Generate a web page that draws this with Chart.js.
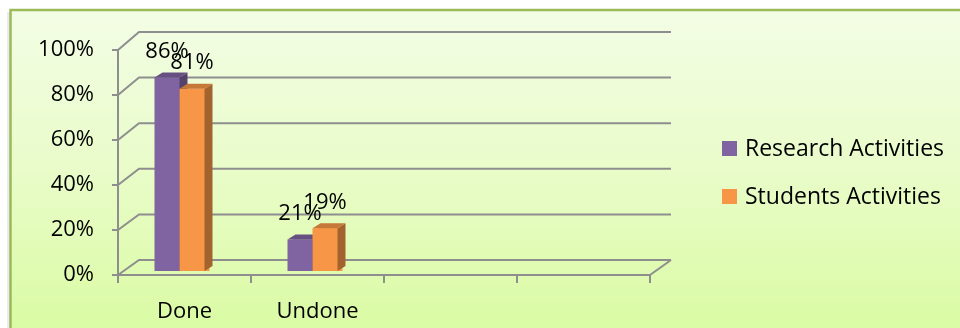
<!DOCTYPE html>
<html>
<head>
<meta charset="utf-8">
<script src="https://cdn.jsdelivr.net/npm/chart.js@4"></script>
<style>
  html, body { margin: 0; padding: 0; background: #fff; }
  #wrap { width: 960px; height: 328px; }
</style>
</head>
<body>
<div id="wrap"><canvas id="myChart" width="960" height="328"></canvas></div>
<script>
//DATOS
const categorias = ["Done", "Undone", "", ""];
const researchActivities = [86, 14, null, null];
const studentsActivities = [81, 19, null, null];
// texts shown above the bars (as printed in the picture)
const researchLabels = ["86%", "21%", "", ""];
const studentsLabels = ["81%", "19%", "", ""];
const yTicks = [0, 20, 40, 60, 80, 100];
const serieNames = ["Research Activities", "Students Activities"];

const colPurple = "#8064a2";
const colOrange = "#f79646";
const gris = "#8e8e8e";
const fuente = "'Open Sans', sans-serif";
const shiftX = -5; // bars sit a bit left in the 3D view
const depthX = 8, depthY = -5; // bar depth

function shade(hex, f) {
  const n = parseInt(hex.slice(1), 16);
  const r = Math.round(((n >> 16) & 255) * f);
  const g = Math.round(((n >> 8) & 255) * f);
  const b = Math.round((n & 255) * f);
  return `rgb(${r},${g},${b})`;
}

// fondo + marco verde
const fondoPlugin = {
  id: "fondo",
  beforeDraw(chart) {
    const ctx = chart.ctx;
    ctx.save();
    ctx.fillStyle = "#fff";
    ctx.fillRect(0, 0, chart.width, chart.height);
    // sombra izquierda
    ctx.fillStyle = "rgba(0,0,0,0.08)";
    ctx.fillRect(7, 12, 3, chart.height);
    const grad = ctx.createLinearGradient(0, 10, 0, chart.height);
    grad.addColorStop(0, "#f3fde5");
    grad.addColorStop(0.5, "#e9fcc9");
    grad.addColorStop(1, "#dafba4");
    ctx.fillStyle = grad;
    ctx.fillRect(10, 10, chart.width, chart.height);
    ctx.strokeStyle = "#9bbb59";
    ctx.lineWidth = 2.5;
    ctx.strokeRect(10.5, 10, chart.width + 10, chart.height + 10);
    ctx.restore();
  },
};

// pared del fondo en 3D, caras de las barras, etiquetas y leyenda
const paredPlugin = {
  id: "pared",
  beforeDatasetsDraw(chart) {
    const ctx = chart.ctx;
    const y = chart.scales.y;
    const left = chart.chartArea.left;
    const right = chart.chartArea.right;
    ctx.save();
    ctx.strokeStyle = gris;
    ctx.lineWidth = 2;
    yTicks.forEach((v) => {
      const yf = y.getPixelForValue(v);
      const yb = yf - 15 - (3 * v) / 100;
      ctx.beginPath();
      ctx.moveTo(left, yf);
      ctx.lineTo(left + 21, yb);
      ctx.lineTo(right + 21, yb);
      ctx.stroke();
    });
    // borde del piso a la derecha
    const y0 = y.getPixelForValue(0);
    ctx.beginPath();
    ctx.moveTo(right, y0);
    ctx.lineTo(right + 21, y0 - 15);
    ctx.stroke();
    ctx.restore();
  },
  afterDatasetsDraw(chart) {
    const ctx = chart.ctx;
    ctx.save();
    ctx.translate(shiftX, 0);
    const colores = [colPurple, colOrange];
    const nCat = categorias.length;
    for (let i = 0; i < nCat; i++) {
      chart.data.datasets.forEach((ds, d) => {
        if (ds.data[i] == null) return;
        const bar = chart.getDatasetMeta(d).data[i];
        bar.draw(ctx); // frente de la barra
        const p = bar.getProps(["x", "y", "base", "width"], true);
        const l = p.x - p.width / 2;
        const r = p.x + p.width / 2;
        // lado
        ctx.fillStyle = shade(colores[d], 0.66);
        ctx.beginPath();
        ctx.moveTo(r, p.y);
        ctx.lineTo(r + depthX, p.y + depthY);
        ctx.lineTo(r + depthX, p.base + depthY);
        ctx.lineTo(r, p.base);
        ctx.closePath();
        ctx.fill();
        // tapa
        ctx.fillStyle = shade(colores[d], 0.8);
        ctx.beginPath();
        ctx.moveTo(l, p.y);
        ctx.lineTo(l + depthX, p.y + depthY);
        ctx.lineTo(r + depthX, p.y + depthY);
        ctx.lineTo(r, p.y);
        ctx.closePath();
        ctx.fill();
      });
    }
    // etiquetas
    ctx.fillStyle = "#000";
    ctx.font = "22px " + fuente;
    ctx.textAlign = "center";
    ctx.textBaseline = "middle";
    [researchLabels, studentsLabels].forEach((textos, d) => {
      chart.getDatasetMeta(d).data.forEach((bar, i) => {
        if (!textos[i]) return;
        ctx.fillText(textos[i], bar.x, bar.y - 26);
      });
    });
    ctx.restore();
    // leyenda
    ctx.save();
    ctx.font = "23px " + fuente;
    ctx.textAlign = "left";
    ctx.textBaseline = "middle";
    serieNames.forEach((nombre, i) => {
      const cy = 148 + i * 48;
      ctx.fillStyle = colores[i];
      ctx.fillRect(722, cy - 7, 15, 15);
      ctx.fillStyle = "#000";
      ctx.fillText(nombre, 745, cy + 1);
    });
    ctx.restore();
  },
};

const data = {
  labels: categorias,
  datasets: [
    {
      label: serieNames[0],
      data: researchActivities,
      backgroundColor: colPurple,
      yAxisID: "yb",
    },
    {
      label: serieNames[1],
      data: studentsActivities,
      backgroundColor: colOrange,
      yAxisID: "yb",
    },
  ],
};

const config = {
  type: "bar",
  data: data,
  plugins: [fondoPlugin, paredPlugin],
  options: {
    responsive: false,
    animation: false,
    layout: { padding: { top: 50, right: 310, left: 0, bottom: 0 } },
    datasets: { bar: { categoryPercentage: 0.376, barPercentage: 1 } },
    plugins: { legend: { display: false }, tooltip: { enabled: false } },
    scales: {
      x: {
        afterFit: (s) => { s.height = 53; },
        grid: {
          offset: true,
          drawOnChartArea: false,
          color: gris,
          lineWidth: 2,
          tickLength: 8,
        },
        border: { color: gris, width: 2 },
        ticks: { color: "#000", font: { family: fuente, size: 22 }, padding: 16 },
      },
      y: {
        min: 0,
        max: 100,
        afterFit: (s) => { s.width = 118; },
        afterBuildTicks: (s) => { s.ticks = yTicks.map((v) => ({ value: v })); },
        grid: { drawOnChartArea: false, color: gris, lineWidth: 2, tickLength: 6 },
        border: { color: gris, width: 2 },
        ticks: {
          color: "#000",
          font: { family: fuente, size: 22 },
          padding: 18,
          callback: (v) => v + "%",
        },
      },
      yb: {
        display: false,
        min: -1.77,
        max: 98.23,
      },
    },
  },
};

new Chart(document.getElementById("myChart"), config);
</script>
</body>
</html>
